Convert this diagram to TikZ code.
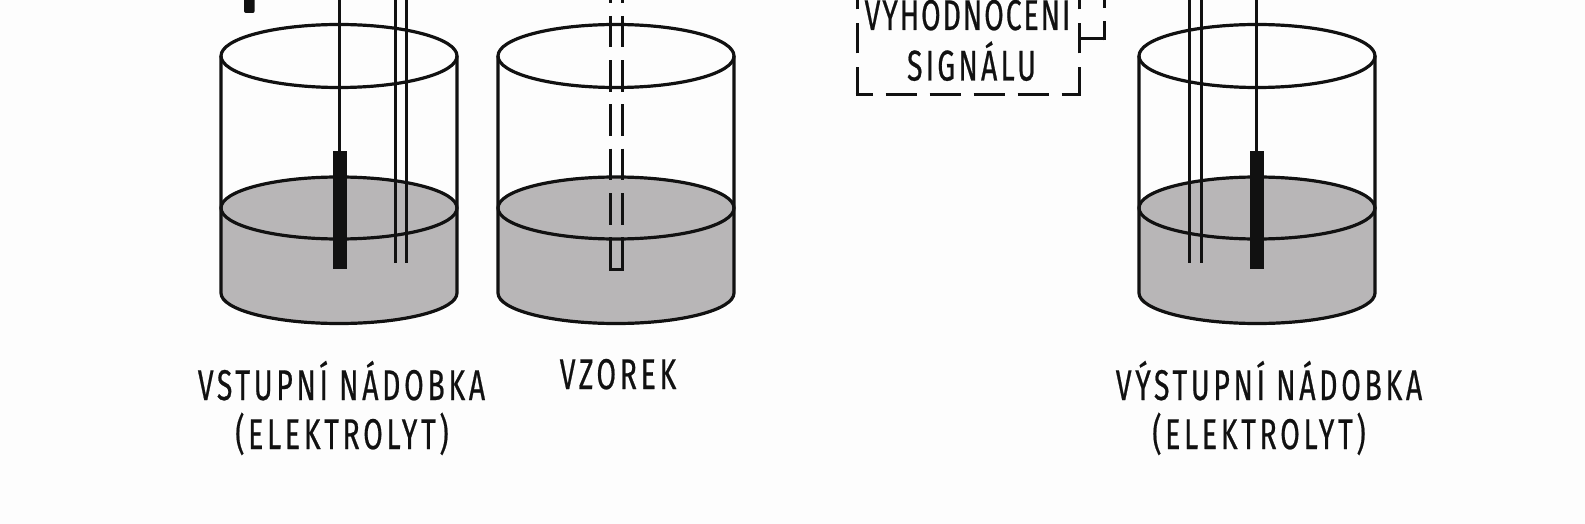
\documentclass[tikz,border=0pt]{standalone}
\usepackage{fontspec}
\setmainfont[FakeStretch=0.66,LetterSpace=8.6,FakeBold=0.5]{Fira Sans}
\definecolor{ink}{HTML}{111111}
\definecolor{liquid}{HTML}{B8B6B7}
\definecolor{paper}{HTML}{FDFDFD}
\tikzset{
  wall/.style={draw=ink,line width=3.2pt,line join=round},
  thin wire/.style={draw=ink,line width=3pt},
  sample wall/.style={draw=ink,line width=3pt,dash pattern=on 31.5pt off 12.8pt},
  box edge/.style={draw=ink,line width=3pt},
  electrode/.style={fill=ink,draw=none,inner sep=0pt,minimum width=14pt,minimum height=118.5pt},
  lbl/.style={inner sep=0pt,text=ink,font=\fontsize{43pt}{50pt}\selectfont,anchor=base},
}
\newcommand{\vessel}[1]{%
  \begin{scope}[shift={(#1,0)}]
    \fill[liquid] (-118,208) -- (-118,293) arc[start angle=180,end angle=0,x radius=118,y radius=30.5] -- (118,208) arc[start angle=0,end angle=-180,x radius=118,y radius=31] -- cycle;
    \draw[wall] (-118,56) -- (-118,293) arc[start angle=180,end angle=0,x radius=118,y radius=30.5] -- (118,56);
    \draw[wall] (0,56) ellipse[x radius=118,y radius=31.5];
    \draw[wall] (0,208) ellipse[x radius=118,y radius=31];
  \end{scope}}
\begin{document}
\begin{tikzpicture}[x=1pt,y=-1pt]
\fill[paper] (0,0) rectangle (1585,524);
\useasboundingbox (0,0) rectangle (1585,524);
\begin{scope}
\clip (0,0) rectangle (1585,524);
\vessel{339}
\vessel{616}
\vessel{1257}
% left vessel
\fill[ink,rounded corners=2pt] (244,-4) rectangle (254.7,13);
\draw[thin wire] (339.3,0) -- (339.3,152);
\node[electrode] (eleft) at (339.7,210) {};
\draw[thin wire] (395.3,0) -- (395.3,263);
\draw[thin wire] (406.7,0) -- (406.7,263);
% sample
\draw[sample wall,dash phase=28.5pt] (610.7,0) -- (610.7,269);
\draw[sample wall,dash phase=28.5pt] (622.3,0) -- (622.3,269);
\draw[thin wire] (609.2,269) -- (623.8,269);
% right vessel
\draw[thin wire] (1189.2,0) -- (1189.2,263);
\draw[thin wire] (1201.2,0) -- (1201.2,263);
\draw[thin wire] (1256.7,0) -- (1256.7,152);
\node[electrode] (eright) at (1257,210) {};
% box
\draw[box edge,dash pattern=on 30.5pt off 13.5pt,dash phase=2.5pt] (857,95) -- (857,-20);
\draw[box edge,dash pattern=on 31.5pt off 12.5pt,dash phase=14pt] (855.5,95) -- (1081,95);
\draw[box edge,dash pattern=on 30.5pt off 13.5pt,dash phase=2.5pt] (1079.5,95) -- (1079.5,-20);
\draw[box edge] (1079.5,39) -- (1105.5,39);
\draw[box edge,dash pattern=on 31.5pt off 13pt,dash phase=12pt] (1104,40.5) -- (1104,-20);
% labels
\node[lbl] (t1) at (967.5,30) {\addfontfeature{LetterSpace=4.5}VYHODNOCENÍ};
\node[lbl] (t2) at (971.5,80.5) {\addfontfeature{LetterSpace=7.5}SIGNÁLU};
\node[lbl] (t3) at (341.5,400) {VSTUPNÍ NÁDOBKA};
\node[lbl] (t4) at (342,449) {(ELEKTROLYT)};
\node[lbl] (t5) at (618,389) {VZOREK};
\node[lbl] (t6) at (1269,400) {VÝSTUPNÍ NÁDOBKA};
\node[lbl] (t7) at (1259,449) {(ELEKTROLYT)};
\end{scope}
\end{tikzpicture}
\end{document}
